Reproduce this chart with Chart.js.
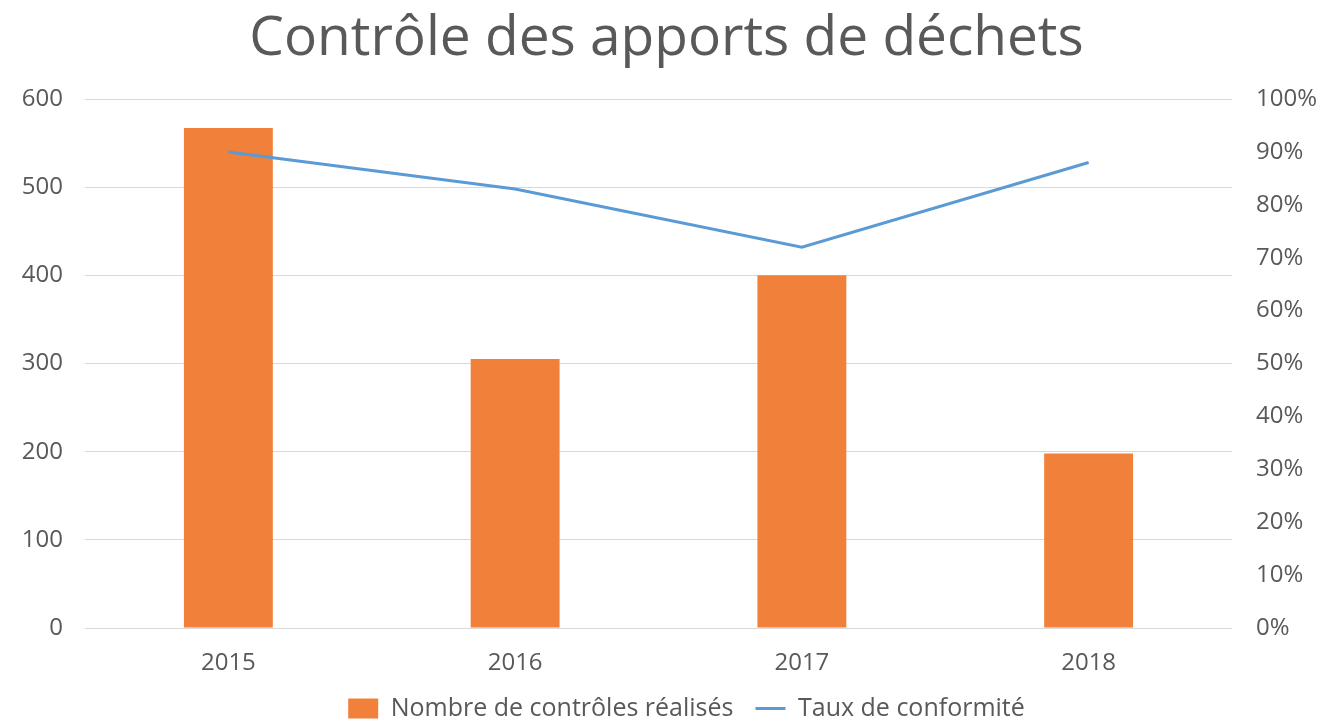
<!DOCTYPE html>
<html>
<head>
<meta charset="utf-8">
<script src="https://cdn.jsdelivr.net/npm/chart.js@4"></script>
<style>
  html, body { margin: 0; padding: 0; background: #fff; }
  #wrap { width: 1333px; height: 722px; }
</style>
</head>
<body>
<div id="wrap"><canvas id="chart" width="1333" height="722"></canvas></div>
<script>
// values
const years = ['2015', '2016', '2017', '2018'];
const controles = [567, 305, 400, 198];
const conformite = [0.90, 0.83, 0.72, 0.88];
const leftTicks = [0, 100, 200, 300, 400, 500, 600];
const rightTicks = [0, 0.1, 0.2, 0.3, 0.4, 0.5, 0.6, 0.7, 0.8, 0.9, 1];

const grey = '#595959';
const font = 'Open Sans';

// legend sits a bit right of centre in the original
const shiftLegend = {
    id: 'shiftLegend',
    afterLayout(chart) {
        chart.legend.left += 20;
        chart.legend.right += 20;
    }
};

const ctx = document.getElementById('chart').getContext('2d');
new Chart(ctx, {
    type: 'bar',
    data: {
        labels: years,
        datasets: [{
            label: 'Nombre de contrôles réalisés',
            data: controles,
            backgroundColor: '#F0803A',
            yAxisID: 'y',
            barPercentage: 0.31,
            categoryPercentage: 1,
            order: 1,
            pointStyle: 'rect'
        }, {
            type: 'line',
            label: 'Taux de conformité',
            data: conformite,
            borderColor: '#5B9BD5',
            backgroundColor: '#5B9BD5',
            borderWidth: 3,
            pointRadius: 0,
            tension: 0,
            yAxisID: 'y1',
            order: 0,
            pointStyle: 'line'
        }]
    },
    plugins: [shiftLegend],
    options: {
        responsive: false,
        animation: false,
        layout: { padding: { top: 0, bottom: -9 } },
        plugins: {
            title: {
                display: true,
                text: 'Contrôle des apports de déchets',
                color: grey,
                font: { family: font, size: 55, weight: 'normal' },
                padding: { top: 6, bottom: 27 }
            },
            legend: {
                position: 'bottom',
                labels: {
                    color: grey,
                    font: { family: font, size: 25 },
                    usePointStyle: true,
                    boxHeight: 20,
                    pointStyleWidth: 30,
                    padding: 22,
                    sort: (a, b) => a.datasetIndex - b.datasetIndex
                }
            },
            tooltip: { enabled: false }
        },
        scales: {
            x: {
                afterFit: s => { s.height = 46; },
                grid: { display: false, drawTicks: false },
                border: { display: false },
                ticks: { color: grey, font: { family: font, size: 24 }, padding: 21 }
            },
            y: {
                position: 'left',
                min: 0,
                max: 600,
                afterBuildTicks: s => { s.ticks = leftTicks.map(v => ({ value: v })); },
                afterFit: s => { s.width = 85; },
                grid: { color: '#d9d9d9', drawTicks: false },
                border: { display: false },
                ticks: { color: grey, font: { family: font, size: 24 }, padding: 22 }
            },
            y1: {
                position: 'right',
                min: 0,
                max: 1,
                afterBuildTicks: s => { s.ticks = rightTicks.map(v => ({ value: v })); },
                afterFit: s => { s.width = 101; },
                grid: { display: false, drawTicks: false },
                border: { display: false },
                ticks: {
                    color: grey,
                    font: { family: font, size: 24 },
                    padding: 24,
                    callback: v => Math.round(v * 100) + '%'
                }
            }
        }
    }
});
</script>
</body>
</html>
